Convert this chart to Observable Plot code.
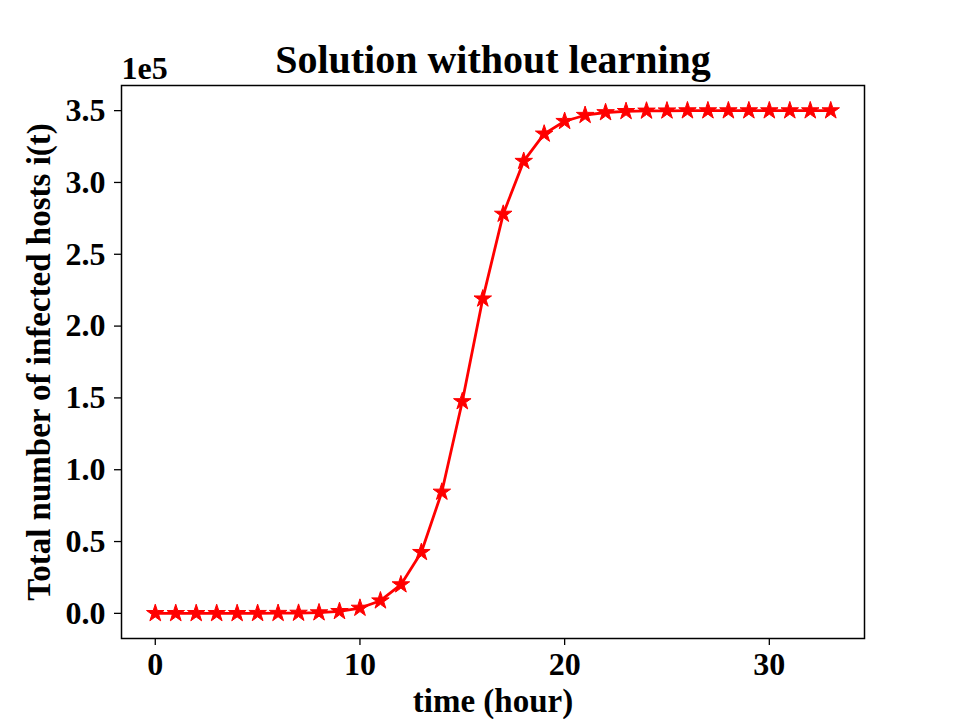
<!DOCTYPE html>
<html>
<head>
<meta charset="utf-8">
<script src="https://cdn.jsdelivr.net/npm/d3@7"></script>
<script src="https://cdn.jsdelivr.net/npm/@observablehq/plot@0.6"></script>
<style>
  html, body { margin: 0; padding: 0; background: #fff; }
</style>
</head>
<body>
<div id="chart"></div>
<script>
const times = [0,1,2,3,4,5,6,7,8,9,10,11,12,13,14,15,16,17,18,19,20,21,22,23,24,25,26,27,28,29,30,31,32,33];
const infected = [0.0,0.0,0.0,0.0,0.0,0.0005,0.001,0.002,0.005,0.014,0.037,0.088,0.200,0.425,0.845,1.475,2.19,2.78,3.148,3.338,3.426,3.468,3.487,3.495,3.498,3.499,3.5,3.5,3.5,3.5,3.5,3.5,3.5,3.5];
const yTicks = [0,0.5,1.0,1.5,2.0,2.5,3.0,3.5];
const xTicks = [0,10,20,30];
const titleText = "Solution without learning";
const xLabel = "time (hour)";
const yLabel = "Total number of infected hosts i(t)";
const scaleText = "1e5";

const data = times.map((t, i) => ({t, v: infected[i]}));
const font = "'Liberation Serif', 'Times New Roman', serif";

const chart = Plot.plot({
  width: 961,
  height: 719,
  marginLeft: 121,
  marginRight: 97,
  marginTop: 85,
  marginBottom: 81,
  style: {fontFamily: font, fontSize: "32px", fontWeight: "bold", background: "#fff", color: "#000"},
  x: {domain: [-1.65, 34.65]},
  y: {domain: [-0.175, 3.675]},
  marks: [
    Plot.axisX({ticks: xTicks, tickSize: 7, tickPadding: 7, tickFormat: d3.format("d"), label: null, fontSize: 32, strokeWidth: 1.3}),
    Plot.axisY({ticks: yTicks, tickSize: 7, tickPadding: 9, tickFormat: d3.format(".1f"), label: null, fontSize: 32, strokeWidth: 1.3}),
    Plot.frame({stroke: "#000", strokeWidth: 1.5}),
    Plot.line(data, {x: "t", y: "v", stroke: "red", strokeWidth: 2.8}),
    Plot.dot(data, {x: "t", y: "v", symbol: "star", fill: "red", stroke: "red", strokeWidth: 1, r: 5.5}),
    Plot.text([titleText], {frameAnchor: "top", text: d => d, dy: -25, fontSize: 40, fontWeight: "bold", lineAnchor: "middle", fill: "#000"}),
    Plot.text([scaleText], {frameAnchor: "top-left", text: d => d, dy: -17, textAnchor: "start", fontSize: 32, fontWeight: "bold", lineAnchor: "middle", fill: "#000"}),
    Plot.text([xLabel], {frameAnchor: "bottom", text: d => d, dy: 63, fontSize: 33, fontWeight: "bold", lineAnchor: "middle", fill: "#000"}),
    Plot.text([yLabel], {frameAnchor: "left", text: d => d, dx: -82, rotate: -90, textAnchor: "middle", fontSize: 33, fontWeight: "bold", lineAnchor: "middle", fill: "#000"})
  ]
});
document.getElementById("chart").appendChild(chart);
</script>
</body>
</html>
